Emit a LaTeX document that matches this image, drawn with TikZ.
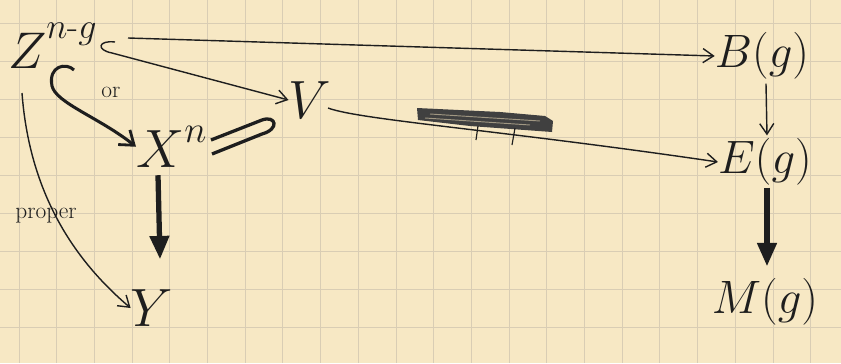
\RequirePackage{fix-cm}
\documentclass[tikz,border=0pt]{standalone}
\usepackage{amsmath}
\usetikzlibrary{arrows.meta,calc}
\definecolor{paper}{HTML}{F7E8C4}
\definecolor{gridc}{HTML}{D9CDB4}
\definecolor{ink}{HTML}{1E1E1E}
\begin{document}
\begin{tikzpicture}[x=0.03cm,y=-0.03cm,
  big/.style={inner sep=0pt,text=ink,font=\fontsize{46}{46}\selectfont},
  rcol/.style={inner sep=0pt,text=ink,font=\fontsize{40}{40}\selectfont},
  small/.style={inner sep=0pt,text=ink,font=\fontsize{20}{20}\selectfont},
  thin/.style={draw=ink,line width=1.2pt,-{Straight Barb[length=9pt,width=12pt,line width=1.2pt]}},
  thick/.style={draw=ink,line width=4.5pt,-{Triangle[length=20pt,width=16pt]}},
  mid/.style={draw=ink,line width=2.6pt,-{Straight Barb[length=11pt,width=16pt,line width=2.4pt]}}]
\useasboundingbox (0,0) rectangle (841,363);
\fill[paper] (0,0) rectangle (841,363);
\foreach \i in {0,...,22} \draw[gridc,line width=0.8pt] (19+37.7*\i,0) -- (19+37.7*\i,363);
\foreach \j in {0,...,9} \draw[gridc,line width=0.8pt] (0,23+38*\j) -- (841,23+38*\j);

% nodes
\node[big,anchor=base west,font=\fontsize{44}{44}\selectfont] (Z) at (8,68) {$Z^{\raisebox{9pt}{$\scriptstyle n\text{-}g$}}$};
\node[big,anchor=base west] (X) at (136,167) {$X^{\raisebox{4pt}{$\scriptstyle n$}}$};
\node[big] (V) at (310,100) {$V$};
\node[big] (Y) at (152,308) {$Y$};
\node[rcol] (B) at (762,56) {$B(g)$};
\node[rcol] (E) at (765,162) {$E(g)$};
\node[rcol] (M) at (765,302) {$M(g)$};
\node[small] (or) at (111,92) {or};
\node[small] (proper) at (46,216) {proper};

% connector endpoints
\coordinate (zb) at (128,38);
\coordinate (zv) at (115,42);
\coordinate (zx) at (74,70);
\coordinate (zy) at (22,93);
\coordinate (vs) at (328,108);

% Z -> B
\draw[thin] (zb) -- (B.west);
% Z -> V (hooked)
\draw[thin] (zv) .. controls (98,40) and (96,50) .. (112,53) -- (V.west);
% Z -> X^n (hooked, thick)
\draw[mid] (zx) .. controls (66,62) and (48,66) .. (52,86) .. controls (56,103) and (100,118) .. (X.west);
% X^n double hook to V
\draw[ink,line width=2.8pt,line join=round] (211,140) -- (262,120) .. controls (276,115) and (280,129) .. (262,134) -- (212,154);
% V -> E
\draw[thin] (vs) .. controls (360,120) and (500,130) .. (E.west);
% scribbled-out label
\fill[ink!85] (417,108) -- (500,112) -- (545,116) -- (553,121) -- (552,132) -- (470,126) -- (418,120) -- cycle;
\draw[paper!60!ink,line width=0.8pt] (430,114) -- (540,121);
\draw[paper!60!ink,line width=0.8pt] (425,118) -- (530,125);
\draw[ink,line width=1pt] (478,126) -- (476,140);
\draw[ink,line width=1pt] (515,128) -- (512,145);
% B -> E
\draw[thin] (B.south) ++(4,4) coordinate (bs) (bs) -- ($(E.north)+(2,-3)$);
% E -> M
\draw[thick] ($(E.south)+(2,2)$) -- ($(M.north)+(2,-12)$);
% X -> Y
\draw[thick] ($(X.south west)+(22,8)$) -- ($(Y.north)+(8,-30)$);
% Z -> Y proper
\draw[thin] (zy) .. controls (30,200) and (80,265) .. (Y.west);
\end{tikzpicture}
\end{document}
